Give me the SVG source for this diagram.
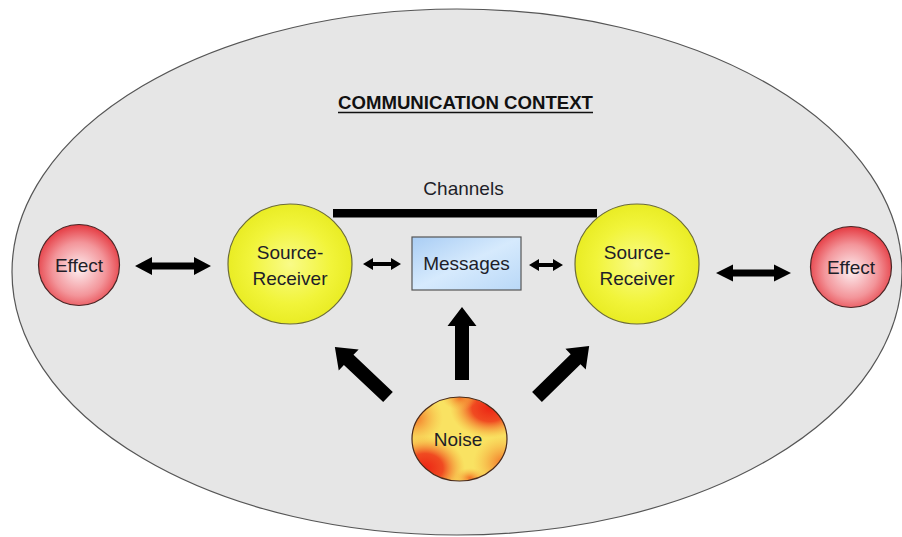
<svg xmlns="http://www.w3.org/2000/svg" width="902" height="537" viewBox="0 0 902 537">
  <style>
    .lbl { font-family: "Liberation Sans", Arial, sans-serif; font-size: 19px; fill: #1e1e28; text-anchor: middle; }
    .title { font-family: "Liberation Sans", Arial, sans-serif; font-size: 18px; font-weight: bold; fill: #111; text-anchor: middle; }
    .arrow { fill: #000; }
  </style>
  <defs>
    <radialGradient id="gEffect" cx="50%" cy="55%" r="55%">
      <stop offset="0" stop-color="#fdeef0"/>
      <stop offset="0.6" stop-color="#f3959a"/>
      <stop offset="1" stop-color="#e53a41"/>
    </radialGradient>
    <radialGradient id="gSR" cx="50%" cy="50%" r="55%">
      <stop offset="0" stop-color="#f9fb88"/>
      <stop offset="0.6" stop-color="#f1f43a"/>
      <stop offset="1" stop-color="#e7ea1e"/>
    </radialGradient>
    <linearGradient id="gMsg" x1="0" y1="0" x2="1" y2="1">
      <stop offset="0" stop-color="#a9cdf4"/>
      <stop offset="0.5" stop-color="#d6eafd"/>
      <stop offset="1" stop-color="#b9d8f7"/>
    </linearGradient>
    <radialGradient id="gRed" cx="50%" cy="50%" r="50%">
      <stop offset="0" stop-color="#ec2514" stop-opacity="1"/>
      <stop offset="0.45" stop-color="#ef3a1a" stop-opacity="0.9"/>
      <stop offset="1" stop-color="#f6a030" stop-opacity="0"/>
    </radialGradient>
    <radialGradient id="gOrange" cx="50%" cy="50%" r="50%">
      <stop offset="0" stop-color="#f26a22" stop-opacity="0.95"/>
      <stop offset="1" stop-color="#f7b040" stop-opacity="0"/>
    </radialGradient>
    <clipPath id="noiseClip">
      <ellipse cx="459.5" cy="439" rx="47.5" ry="42"/>
    </clipPath>
    <!-- block arrow pointing along +x, tail at origin -->
    <path id="blockArrow" d="M0,-7 L54,-7 L54,-14.5 L73,0 L54,14.5 L54,7 L0,7 Z"/>
  </defs>

  <rect width="902" height="537" fill="#ffffff"/>

  <!-- context ellipse -->
  <g id="context">
    <ellipse cx="457" cy="272" rx="445" ry="263" fill="#e6e6e6" stroke="#555" stroke-width="1.2"/>
    <text class="title" x="465.5" y="109" textLength="255" lengthAdjust="spacingAndGlyphs">COMMUNICATION CONTEXT</text>
    <line x1="338" y1="112.5" x2="593" y2="112.5" stroke="#111" stroke-width="1.3"/>
  </g>

  <!-- channel bar -->
  <g id="channels">
    <text class="lbl" x="463.5" y="195">Channels</text>
    <rect x="333" y="209" width="264" height="8.5" fill="#000"/>
  </g>

  <g id="effect-left">
    <circle cx="79" cy="265" r="40.5" fill="url(#gEffect)" stroke="#4a2626" stroke-width="1.2"/>
    <text class="lbl" x="79" y="271.5">Effect</text>
  </g>

  <g id="source-receiver-left">
    <ellipse cx="290" cy="264" rx="62" ry="60" fill="url(#gSR)" stroke="#6b6b3a" stroke-width="1.2"/>
    <text class="lbl" x="290" y="258.5">Source-</text>
    <text class="lbl" x="290" y="284.5">Receiver</text>
  </g>

  <g id="messages">
    <rect x="412" y="237" width="109" height="53" fill="url(#gMsg)" stroke="#555" stroke-width="1.2"/>
    <text class="lbl" x="466.5" y="270">Messages</text>
  </g>

  <g id="source-receiver-right">
    <ellipse cx="637" cy="264" rx="62" ry="60" fill="url(#gSR)" stroke="#6b6b3a" stroke-width="1.2"/>
    <text class="lbl" x="637" y="258.5">Source-</text>
    <text class="lbl" x="637" y="284.5">Receiver</text>
  </g>

  <g id="effect-right">
    <circle cx="851" cy="267" r="40.5" fill="url(#gEffect)" stroke="#4a2626" stroke-width="1.2"/>
    <text class="lbl" x="851" y="273.5">Effect</text>
  </g>

  <g id="noise">
    <ellipse cx="459.5" cy="439" rx="47.5" ry="42" fill="#f9e262"/>
    <g clip-path="url(#noiseClip)">
      <ellipse cx="490" cy="408" rx="40" ry="30" fill="url(#gRed)"/>
      <ellipse cx="425" cy="468" rx="40" ry="32" fill="url(#gRed)"/>
      <ellipse cx="415" cy="418" rx="28" ry="26" fill="url(#gOrange)"/>
      <ellipse cx="503" cy="463" rx="30" ry="28" fill="url(#gOrange)"/>
      <ellipse cx="460" cy="398" rx="18" ry="12" fill="url(#gOrange)"/>
      <ellipse cx="470" cy="478" rx="16" ry="10" fill="url(#gOrange)"/>
    </g>
    <ellipse cx="459.5" cy="439" rx="47.5" ry="42" fill="none" stroke="#4a2a1a" stroke-width="1.2"/>
    <text class="lbl" x="458" y="445.5">Noise</text>
  </g>

  <!-- connectors -->
  <g id="connectors">
    <path class="arrow" d="M135,266 L152,257 L152,262.5 L194,262.5 L194,257 L211,266 L194,275 L194,269.5 L152,269.5 L152,275 Z"/>
    <path class="arrow" d="M363,264 L373,258 L373,262 L391,262 L391,258 L401,264 L391,270 L391,266 L373,266 L373,270 Z"/>
    <path class="arrow" d="M529,265 L539,259 L539,263 L553,263 L553,259 L563,265 L553,271 L553,267 L539,267 L539,271 Z"/>
    <path class="arrow" d="M716,273 L733,264.5 L733,269.5 L774,269.5 L774,264.5 L791,273 L774,281.5 L774,276.5 L733,276.5 L733,281.5 Z"/>
    <use href="#blockArrow" class="arrow" transform="translate(462,380) rotate(-90)"/>
    <use href="#blockArrow" class="arrow" transform="translate(388,397) rotate(-136.7)"/>
    <use href="#blockArrow" class="arrow" transform="translate(537,397) rotate(-44.4)"/>
  </g>
</svg>
